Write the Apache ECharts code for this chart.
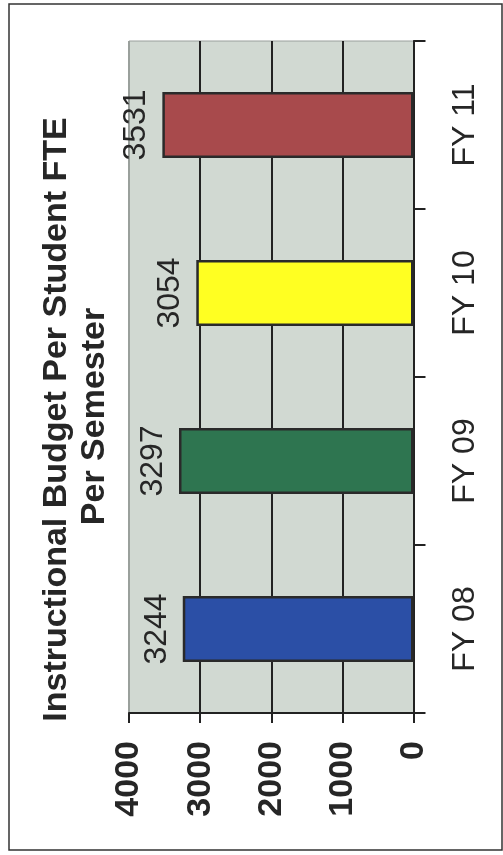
<!DOCTYPE html>
<html>
<head>
<meta charset="utf-8">
<script src="https://cdn.jsdelivr.net/npm/echarts@6/dist/echarts.min.js"></script>
<style>
  html, body { margin: 0; padding: 0; background: #ffffff; }
  #chart { width: 503px; height: 855px; }
</style>
</head>
<body>
<div id="chart"></div>
<script>
// Fiscal years and instructional budget per student FTE per semester
const categories = ['FY 08', 'FY 09', 'FY 10', 'FY 11'];
const budget = [3244, 3297, 3054, 3531];
const titleLines = ['Instructional Budget Per Student FTE', 'Per Semester'];
const valueMin = 0, valueMax = 4000, valueStep = 1000;

// Bar fills, one per fiscal year
const palette = ['#2b4fa6', '#2e7550', '#ffff22', '#a84a4c'];

const FONT = '"Liberation Sans", Arial, sans-serif';
const INK = '#262626';

const chart = echarts.init(document.getElementById('chart'), null, { renderer: 'canvas' });

chart.setOption({
  animation: false,
  backgroundColor: '#ffffff',
  textStyle: { fontFamily: FONT },
  grid: {
    left: 129, right: 89.5, top: 41, bottom: 142,
    show: true,
    backgroundColor: '#d1d9d2',
    borderColor: '#9aa09c',
    borderWidth: 1
  },
  // value axis runs along the bottom, zero on the right
  xAxis: {
    type: 'value',
    inverse: true,
    position: 'bottom',
    min: valueMin, max: valueMax, interval: valueStep,
    axisLine: { show: true, onZero: false, lineStyle: { color: '#222', width: 2 } },
    axisTick: { show: true, length: 10, lineStyle: { color: '#222', width: 2 } },
    splitLine: { show: true, lineStyle: { color: ['#222', '#222', '#222', '#222', '#9aa09c'], width: 2 } },
    axisLabel: {
      rotate: 90, margin: 28,
      fontSize: 34, fontWeight: 'bold', color: INK, fontFamily: FONT,
      formatter: v => String(v)
    }
  },
  // category axis on the right, read bottom to top
  yAxis: {
    type: 'category',
    position: 'right',
    data: categories,
    axisLine: { show: true, lineStyle: { color: '#222', width: 2 } },
    axisTick: { show: true, length: 12, lineStyle: { color: '#222', width: 2 } },
    splitLine: { show: false },
    axisLabel: {
      rotate: 90, margin: 36,
      fontSize: 32, color: INK, fontFamily: FONT
    }
  },
  series: [{
    type: 'bar',
    data: budget.map((v, i) => ({ value: v, itemStyle: { color: palette[i] } })),
    barWidth: 66,
    itemStyle: { borderColor: '#2a2a2a', borderWidth: 2.5 },
    label: {
      show: true,
      position: 'left',
      distance: 26,
      rotate: 90,
      align: 'center',
      verticalAlign: 'middle',
      fontSize: 32,
      color: INK,
      fontFamily: FONT,
      formatter: p => String(p.value)
    }
  }],
  graphic: [
    {
      type: 'rect',
      shape: { x: 9, y: 4, width: 493, height: 846 },
      style: { fill: 'none', stroke: '#333', lineWidth: 1.5 },
      silent: true
    },
    {
      type: 'text',
      x: 57, y: 419.5, rotation: Math.PI / 2,
      style: {
        text: titleLines[0], x: 0, y: 0,
        font: 'bold 34px ' + FONT, fill: INK,
        textAlign: 'center', textVerticalAlign: 'middle',
        align: 'center', verticalAlign: 'middle'
      }
    },
    {
      type: 'text',
      x: 95, y: 416.5, rotation: Math.PI / 2,
      style: {
        text: titleLines[1], x: 0, y: 0,
        font: 'bold 34px ' + FONT, fill: INK,
        textAlign: 'center', textVerticalAlign: 'middle',
        align: 'center', verticalAlign: 'middle'
      }
    }
  ]
});
</script>
</body>
</html>
